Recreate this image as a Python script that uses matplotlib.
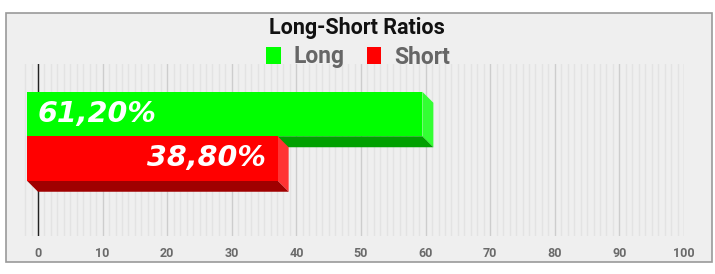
import matplotlib
matplotlib.use("Agg")
import matplotlib.pyplot as plt
from matplotlib.patches import Rectangle, Polygon, Patch
from matplotlib.transforms import ScaledTranslation
import numpy as np

# ---- data ----
categories = ["Long", "Short"]
values = [61.2, 38.8]
value_labels = ["61,20%", "38,80%"]
front_colors = ["#00ff00", "#ff0000"]
side_colors = ["#33ff33", "#ff3333"]
bottom_colors = ["#00a000", "#a00000"]
xticks = list(range(0, 101, 10))
title = "Long-Short Ratios"

W, H, DPI = 715, 274, 100
fig = plt.figure(figsize=(W / DPI, H / DPI), dpi=DPI, facecolor="white")

# outer panel
fig.patches.append(Rectangle((6 / W, 1 - 262 / H), (712 - 6) / W, (262 - 13) / H,
                             transform=fig.transFigure, facecolor="#efefef",
                             edgecolor="#999999", linewidth=1.2, zorder=-5))

ax_l, ax_r, ax_t, ax_b = 20, 684, 64, 236
ax = fig.add_axes([ax_l / W, 1 - ax_b / H, (ax_r - ax_l) / W, (ax_b - ax_t) / H])
ax.set_zorder(1)
ax.set_facecolor("none")
for s in ax.spines.values():
    s.set_visible(False)

x0px = 38
ppu = (684 - 38) / 100.0
ax.set_xlim((ax_l - x0px) / ppu, (ax_r - x0px) / ppu)
bar_px = 44.5
c0 = 125
ax.set_ylim((ax_b - c0) / bar_px, (ax_t - c0) / bar_px)

# grid
for v in np.arange(-2, 101, 1):
    if v % 10 == 0:
        continue
    ax.axvline(v, color="#e3e3e3", lw=1.0, zorder=1)
for v in xticks:
    ax.axvline(v, color="#cdcdcd", lw=1.0, zorder=1.5)
ax.axvline(0, color="#222222", lw=1.0, zorder=2)

ax.set_xticks(xticks)
ax.set_xticklabels([str(t) for t in xticks])
ax.set_yticks([])
ax.tick_params(axis="x", length=0, pad=8, labelsize=9, labelcolor="#6a6a6a")
for lbl in ax.get_xticklabels():
    lbl.set_fontfamily("Roboto")
    lbl.set_fontweight("bold")

depth = 11 / DPI
front_tr = ax.transData + ScaledTranslation(-depth, depth, fig.dpi_scale_trans)

ypos = np.arange(len(categories))
for i, (cat, v) in enumerate(zip(categories, values)):
    y = ypos[i]
    top, bot = y - 0.5, y + 0.5
    def front_to_data(xd, yd):
        p = front_tr.transform((xd, yd))
        return ax.transData.inverted().transform(p)
    fr_top = front_to_data(v, top)
    fr_bot = front_to_data(v, bot)
    fl_bot = front_to_data(0, bot)
    side = Polygon([fr_top, (v, top), (v, bot), fr_bot], closed=True,
                   facecolor=side_colors[i], edgecolor="none", zorder=3 + i)
    bottom = Polygon([fl_bot, fr_bot, (v, bot), (0, bot)], closed=True,
                     facecolor=bottom_colors[i], edgecolor="none", zorder=3 + i)
    ax.add_patch(side)
    ax.add_patch(bottom)
    ax.barh([y], [v], height=1.0, left=0, color=front_colors[i],
            transform=front_tr, zorder=3.5 + i, edgecolor="none")

# value labels
lab_kw = dict(color="white", fontsize=20.5, fontweight="heavy", fontstyle="italic",
              family="DejaVu Sans", zorder=10, va="center")
ax.text(0, ypos[0], value_labels[0],
        transform=front_tr + ScaledTranslation(11 / DPI, 0, fig.dpi_scale_trans),
        ha="left", **lab_kw)
ax.text(values[1], ypos[1], value_labels[1],
        transform=front_tr + ScaledTranslation(-12 / DPI, 0, fig.dpi_scale_trans),
        ha="right", **lab_kw)

# title
fig.text(357 / W, 1 - 28 / H, title, ha="center", va="center", fontsize=15.5,
         family="Roboto", fontweight="semibold", color="#111111")

# legend
handles = [Patch(facecolor=front_colors[i], edgecolor="none", label=categories[i]) for i in range(2)]
leg = fig.legend(handles=handles, loc="center", bbox_to_anchor=(358 / W, 1 - 57 / H), ncol=2,
                 frameon=False, handlelength=0.62, handleheight=0.75, handletextpad=0.55,
                 columnspacing=1.0, prop={"family": "Roboto", "weight": "bold", "size": 16.5})
for t in leg.get_texts():
    t.set_color("#666666")

fig.savefig("out.png", dpi=DPI, facecolor="white")
